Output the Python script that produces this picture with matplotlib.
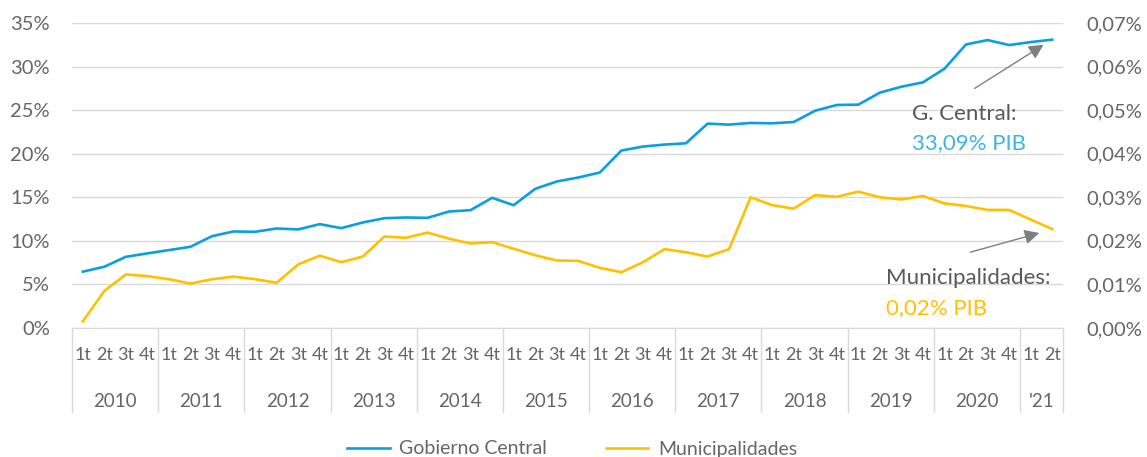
import matplotlib
matplotlib.use("Agg")
import matplotlib.pyplot as plt
from matplotlib.ticker import FuncFormatter

plt.rcParams.update({"font.family": ["Lato", "DejaVu Sans"]})
GREY, BLUE, YELLOW = "#666666", "#0A9FE0", "#FFC000"

YEARS = ["2010", "2011", "2012", "2013", "2014", "2015", "2016", "2017", "2018", "2019", "2020", "'21"]
QUARTERS = ["1t", "2t", "3t", "4t"] * 11 + ["1t", "2t"]
# % del PIB
GOB_CENTRAL = [6.46, 7.03, 8.17, 8.56, 8.94, 9.32, 10.54, 11.08, 11.04, 11.42,
               11.31, 11.92, 11.46, 12.11, 12.60, 12.68, 12.64, 13.37, 13.52, 14.94,
               14.09, 15.97, 16.81, 17.27, 17.84, 20.36, 20.82, 21.05, 21.20, 23.45,
               23.34, 23.53, 23.49, 23.64, 24.94, 25.59, 25.63, 27.01, 27.69, 28.19,
               29.76, 32.54, 33.04, 32.47, 32.81, 33.09]
MUNICIP = [0.0015, 0.0085, 0.0123, 0.0119, 0.0112, 0.0102, 0.0112, 0.0118, 0.0112, 0.0104,
           0.0146, 0.0166, 0.0151, 0.0164, 0.0210, 0.0207, 0.0219, 0.0205, 0.0194, 0.0197,
           0.0182, 0.0167, 0.0155, 0.0154, 0.0138, 0.0128, 0.0151, 0.0181, 0.0174, 0.0164,
           0.0181, 0.0300, 0.0282, 0.0274, 0.0305, 0.0301, 0.0313, 0.0300, 0.0295, 0.0303,
           0.0286, 0.0280, 0.0271, 0.0271, 0.0249, 0.0227]

fig = plt.figure(figsize=(11.47, 4.57), dpi=100)
ax = fig.add_axes([72 / 1147, 129 / 457, 991 / 1147, 305 / 457])
ax2 = ax.twinx()
x = list(range(len(QUARTERS)))

ax.plot(x, GOB_CENTRAL, color=BLUE, lw=1.9, label="Gobierno Central", zorder=3)
ax2.plot(x, MUNICIP, color=YELLOW, lw=1.9, label="Municipalidades", zorder=3)

ax.set_xlim(-0.5, len(x) - 0.5)
ax.set_ylim(0, 35); ax.set_yticks(range(0, 36, 5))
ax2.set_ylim(0, 0.07); ax2.set_yticks([i / 100 for i in range(8)])
ax.yaxis.set_major_formatter(FuncFormatter(lambda v, p: f"{v:.0f}%"))
ax2.yaxis.set_major_formatter(FuncFormatter(lambda v, p: f"{v:.2f}%".replace(".", ",")))
ax.grid(axis="y", color="#d9d9d9", lw=1)
for a in (ax, ax2):
    for s in a.spines.values():
        s.set_visible(False)
    a.tick_params(length=0, labelsize=14.5, labelcolor=GREY)
ax.spines["bottom"].set_visible(True); ax.spines["bottom"].set_color("#d9d9d9")
ax.tick_params(axis="y", pad=16)
ax2.tick_params(axis="y", pad=17)

ax.set_xticks(x); ax.set_xticklabels(QUARTERS)
ax.tick_params(axis="x", pad=14, labelsize=13)

# year separators and labels
tr = ax.get_xaxis_transform()
bounds = [-0.5] + [3.5 + 4 * i for i in range(11)] + [len(x) - 0.5]
for b in bounds:
    ax.plot([b, b], [0, -0.275], transform=tr, color="#d9d9d9", lw=1, clip_on=False)
for i, yr in enumerate(YEARS):
    ax.text((bounds[i] + bounds[i + 1]) / 2, -0.24, yr, transform=tr, ha="center", va="center",
            fontsize=13.5, color=GREY)

# annotations
arrow = dict(arrowstyle="-|>", color="#7f7f7f", lw=1, mutation_scale=22, shrinkA=0, shrinkB=0)
ax.annotate("", xy=(44.6, 32.5), xytext=(41.4, 27.5), arrowprops=arrow)
ax.text(38.5, 24.6, "G. Central:", fontsize=16, color="#595959", va="center")
ax.text(38.5, 21.2, "33,09% PIB", fontsize=16, color="#3DB3EA", va="center")
ax.annotate("", xy=(44.4, 10.9), xytext=(41.2, 8.7), arrowprops=arrow)
ax.text(37.3, 5.7, "Municipalidades:", fontsize=16, color="#595959", va="center")
ax.text(37.3, 2.3, "0,02% PIB", fontsize=16, color=YELLOW, va="center")

h1, l1 = ax.get_legend_handles_labels()
h2, l2 = ax2.get_legend_handles_labels()
fig.legend(h1 + h2, l1 + l2, loc="center", bbox_to_anchor=(572 / 1147, 1 - 449 / 457), ncol=2,
           frameon=False, fontsize=14, labelcolor=GREY, handlelength=2.2, handletextpad=0.5,
           columnspacing=3.0)

fig.savefig("out.png", dpi=100)
